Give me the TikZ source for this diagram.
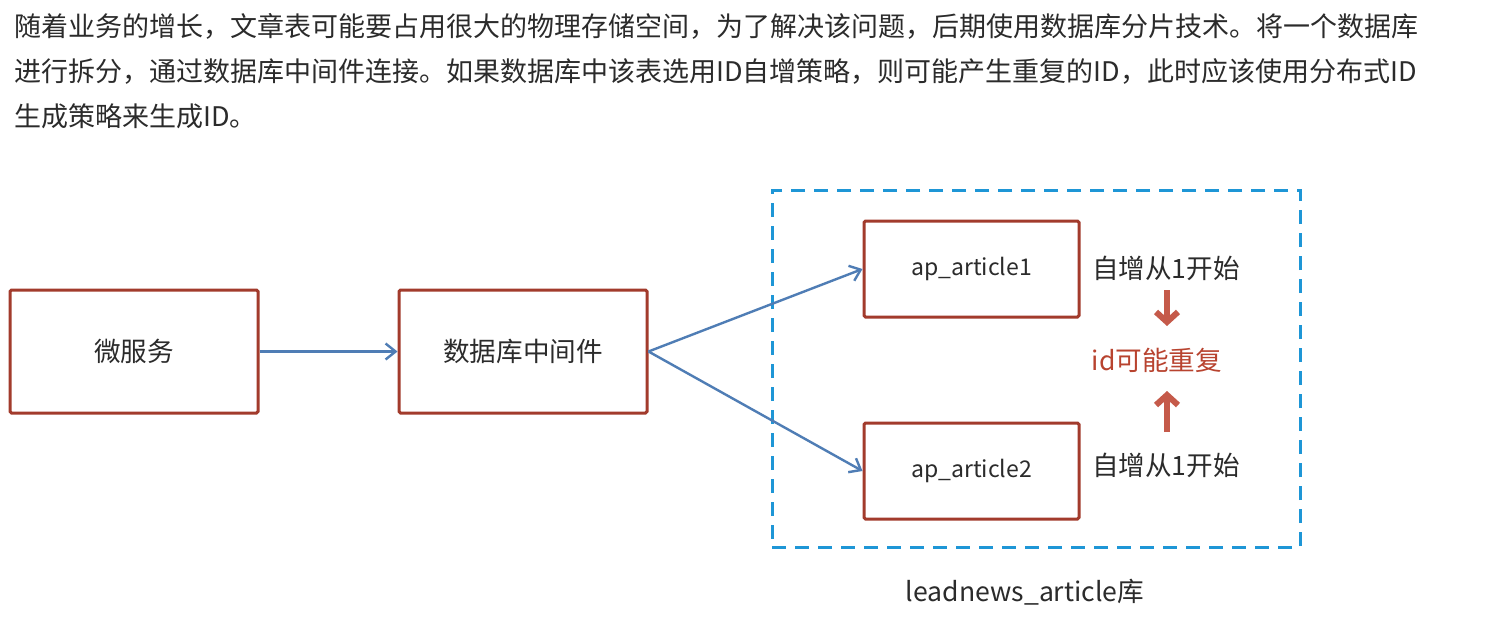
\documentclass[tikz,border=0pt]{standalone}
\usepackage{fontspec}
\setmainfont{Noto Sans CJK SC}
\usetikzlibrary{arrows.meta}
\definecolor{boxred}{HTML}{A23B2C}
\definecolor{arrowblue}{HTML}{4F7DB5}
\definecolor{dashblue}{HTML}{1E96D6}
\definecolor{redtext}{HTML}{B8432F}
\definecolor{redarrow}{HTML}{C55A4A}
\definecolor{txtgray}{HTML}{2B2B2B}
\tikzset{
  rbox/.style={draw=boxred, line width=1.5pt, rounded corners=0.8pt, fill=white, inner sep=0pt, font=\fontsize{13.3pt}{15pt}\selectfont, text=txtgray},
  para/.style={anchor=base west, inner sep=0pt, font=\fontsize{13.5pt}{16pt}\selectfont, text=txtgray},
  lbl/.style={inner sep=0pt, font=\fontsize{13.3pt}{15pt}\selectfont, text=txtgray},
  barrow/.style={draw=arrowblue, line width=1.2pt, -{Straight Barb[length=5pt, width=8pt, line width=1.2pt]}},
  rarrow/.style={draw=redarrow, line width=3pt, -{Straight Barb[length=5pt, width=11pt, line width=3pt]}},
}
\begin{document}
\begin{tikzpicture}[x=0.5pt, y=-0.5pt]
\useasboundingbox[fill=white] (0,0) rectangle (1504,621);
% paragraph
\node[para] (p1) at (14,36) {随着业务的增长，文章表可能要占用很大的物理存储空间，为了解决该问题，后期使用数据库分片技术。将一个数据库};
\node[para] (p2) at (14,81) {进行拆分，通过数据库中间件连接。如果数据库中该表选用ID自增策略，则可能产生重复的ID，此时应该使用分布式ID};
\node[para] (p3) at (14,126) {生成策略来生成ID。};
% dashed database container
\node[draw=dashblue, line width=1.5pt, dash pattern=on 7pt off 4.5pt, minimum width=264pt, minimum height=178.5pt, inner sep=0pt] (db) at (1036,368.5) {};
\node[lbl] (dblbl) at (1025,592) {leadnews\_article库};
% boxes
\node[rbox, minimum width=124pt, minimum height=61.5pt] (ms) at (134,351.5) {微服务};
\node[rbox, minimum width=124pt, minimum height=61.5pt] (mid) at (523,351.5) {数据库中间件};
\node[rbox, minimum width=107.5pt, minimum height=48pt, font=\fontsize{11.5pt}{14pt}\selectfont] (ap1) at (971.5,269) {ap\_article1};
\node[rbox, minimum width=107.5pt, minimum height=48pt, font=\fontsize{11.5pt}{14pt}\selectfont] (ap2) at (971.5,471) {ap\_article2};
% side labels
\node[lbl] (inc1) at (1166,268) {自增从1开始};
\node[lbl] (inc2) at (1166,465) {自增从1开始};
\node[lbl, text=redtext] (dup) at (1157,360) {id可能重复};
% connectors
\draw[barrow] (ms.east) -- (mid.west);
\draw[barrow] (mid.east) -- (ap1.west);
\draw[barrow] (mid.east) -- (ap2.west);
\coordinate (d1) at (1167,290);
\coordinate (d2) at (1167,326);
\coordinate (u1) at (1167,432);
\coordinate (u2) at (1167,391);
\draw[rarrow] (d1) -- (d2);
\draw[rarrow] (u1) -- (u2);
\end{tikzpicture}
\end{document}
